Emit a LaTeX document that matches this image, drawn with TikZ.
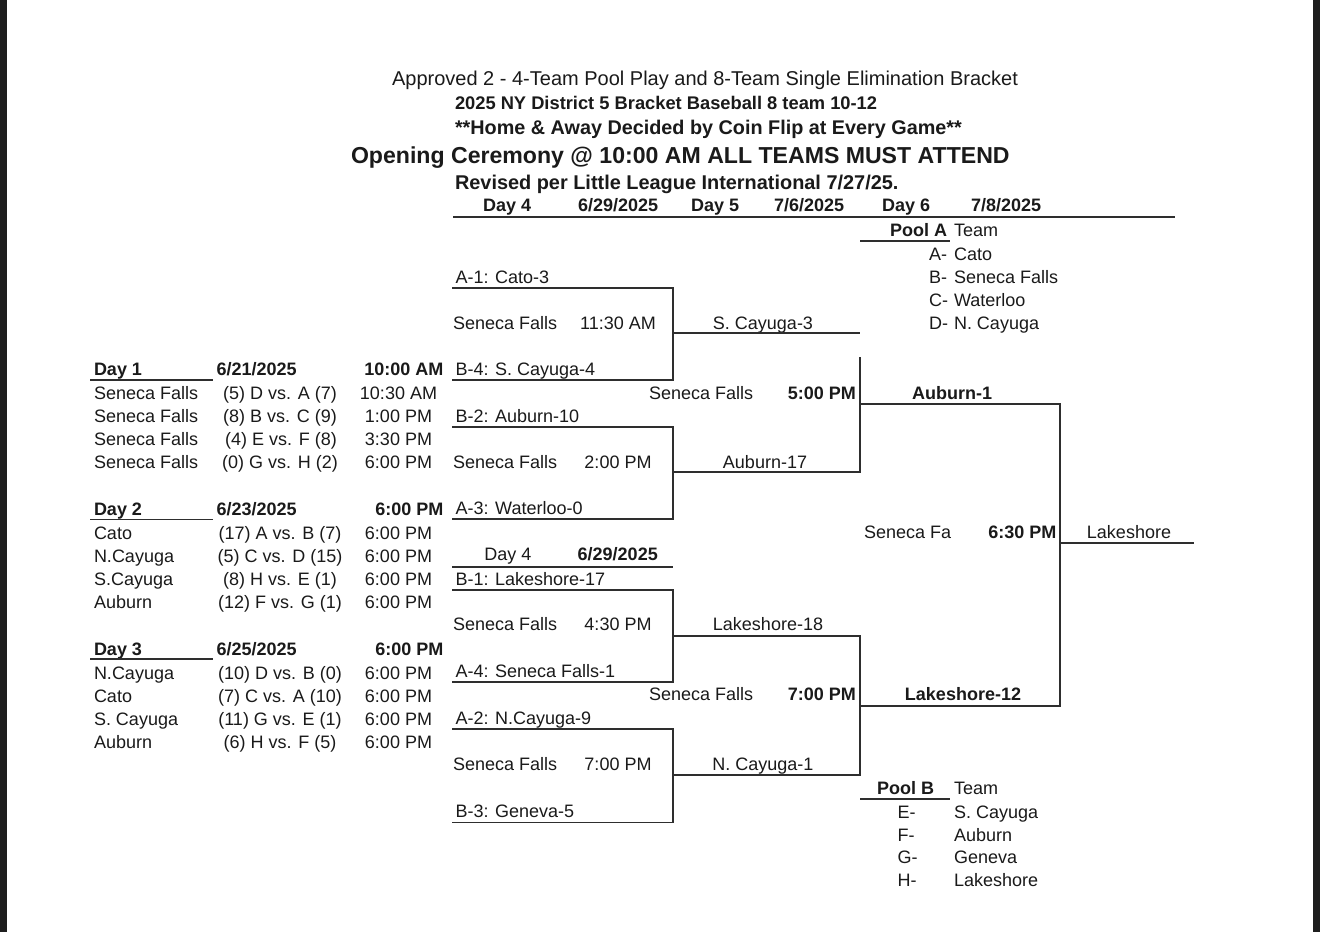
\documentclass[tikz,border=0pt]{standalone}
\usepackage{fontspec}
\setmainfont{Liberation Sans}
\definecolor{ink}{HTML}{1A1A1A}
\definecolor{linec}{HTML}{2E2E2E}
\definecolor{frame}{HTML}{1E1E1E}
\tikzset{
  every node/.style={inner sep=0pt, outer sep=0pt, text=ink},
  txt/.style={font=\fontsize{18}{20}\selectfont},
  btxt/.style={font=\fontsize{18}{20}\selectfont\bfseries},
  ln/.style={draw=linec, line width=1.8pt},
}
\begin{document}
\begin{tikzpicture}[x=1pt,y=-1pt]
\path[use as bounding box, fill=white] (0,0) rectangle (1320,932);
\fill[frame] (0,0) rectangle (7,932);
\fill[frame] (1313,0) rectangle (1320,932);

% titles
\node[txt, font=\fontsize{20}{22}\selectfont, anchor=base] (t1) at (705,85) {Approved 2 - 4-Team Pool Play and 8-Team Single Elimination Bracket};
\node[btxt, font=\fontsize{18.3}{20}\selectfont\bfseries, anchor=base west] (t2) at (455,109.5) {2025 NY District 5 Bracket Baseball 8 team 10-12};
\node[btxt, font=\fontsize{19.8}{22}\selectfont\bfseries, anchor=base west] (t3) at (455,134.5) {**Home \& Away Decided by Coin Flip at Every Game**};
\node[btxt, font=\fontsize{23.1}{25}\selectfont\bfseries, anchor=base west] (t4) at (351,163) {Opening Ceremony @ 10:00 AM ALL TEAMS MUST ATTEND};
\node[btxt, font=\fontsize{19.9}{22}\selectfont\bfseries, anchor=base west] (t5) at (455,189) {Revised per Little League International 7/27/25.};

% header row
\node[btxt, anchor=base west] (h1) at (483,211.5) {Day 4};
\node[btxt, anchor=base west] (h2) at (578,211.5) {6/29/2025};
\node[btxt, anchor=base west] (h3) at (691,211.5) {Day 5};
\node[btxt, anchor=base west] (h4) at (774,211.5) {7/6/2025};
\node[btxt, anchor=base west] (h5) at (882,211.5) {Day 6};
\node[btxt, anchor=base west] (h6) at (971,211.5) {7/8/2025};
\coordinate (hL) at (453,217); \coordinate (hR) at (1175,217);
\draw[ln] (hL) -- (hR);

% Pool A
\node[btxt, anchor=base east] (pa) at (947,236.5) {Pool A};
\node[txt, anchor=base west] (pat) at (954,236.5) {Team};
\coordinate (paL) at (860,241); \coordinate (paR) at (950,241);
\draw[ln] (paL) -- (paR);
\node[txt, anchor=base west] (paA) at (929,260) {A-};
\node[txt, anchor=base west] (paAt) at (954,260) {Cato};
\node[txt, anchor=base west] (paB) at (929,283) {B-};
\node[txt, anchor=base west] (paBt) at (954,283) {Seneca Falls};
\node[txt, anchor=base west] (paC) at (929,306.5) {C-};
\node[txt, anchor=base west] (paCt) at (954,306.5) {Waterloo};
\node[txt, anchor=base west] (paD) at (929,329) {D-};
\node[txt, anchor=base west] (paDt) at (954,329) {N. Cayuga};

% Pool B
\node[btxt, anchor=base east] (pb) at (934,794) {Pool B};
\node[txt, anchor=base west] (pbt) at (954,794) {Team};
\coordinate (pbL) at (860,799); \coordinate (pbR) at (950,799);
\draw[ln] (pbL) -- (pbR);
\node[txt, anchor=base west] (pbE) at (897.5,818.3) {E-};
\node[txt, anchor=base west] (pbEt) at (954,818.3) {S. Cayuga};
\node[txt, anchor=base west] (pbF) at (897.5,841) {F-};
\node[txt, anchor=base west] (pbFt) at (954,841) {Auburn};
\node[txt, anchor=base west] (pbG) at (897.5,863.5) {G-};
\node[txt, anchor=base west] (pbGt) at (954,863.5) {Geneva};
\node[txt, anchor=base west] (pbH) at (897.5,886) {H-};
\node[txt, anchor=base west] (pbHt) at (954,886) {Lakeshore};

% Day 1
\node[btxt, anchor=base west] (d1) at (94,375.7) {Day 1};
\node[btxt, anchor=base west] (d1d) at (216.5,375.7) {6/21/2025};
\node[btxt, anchor=base east] (d1t) at (443.5,375.7) {10:00 AM};
\coordinate (d1L) at (90,380); \coordinate (d1R) at (213,380);
\draw[ln] (d1L) -- (d1R);
\node[txt, anchor=base west] (d1a) at (94,399) {Seneca Falls};
\node[txt, anchor=base] (d1as) at (280,399) {(5) D vs. A (7)};
\node[txt, anchor=base] (d1at) at (398.5,399) {10:30 AM};
\node[txt, anchor=base west] (d1b) at (94,422) {Seneca Falls};
\node[txt, anchor=base] (d1bs) at (280,422) {(8) B vs. C (9)};
\node[txt, anchor=base] (d1bt) at (398.5,422) {1:00 PM};
\node[txt, anchor=base west] (d1c) at (94,445) {Seneca Falls};
\node[txt, anchor=base] (d1cs) at (281,445) {(4) E vs. F (8)};
\node[txt, anchor=base] (d1ct) at (398.5,445) {3:30 PM};
\node[txt, anchor=base west] (d1e) at (94,468) {Seneca Falls};
\node[txt, anchor=base] (d1es) at (280,468) {(0) G vs. H (2)};
\node[txt, anchor=base] (d1et) at (398.5,468) {6:00 PM};

% Day 2
\node[btxt, anchor=base west] (d2) at (94,515.5) {Day 2};
\node[btxt, anchor=base west] (d2d) at (216.5,515.5) {6/23/2025};
\node[btxt, anchor=base east] (d2t) at (443.5,515.5) {6:00 PM};
\coordinate (d2L) at (90,519.5); \coordinate (d2R) at (213,519.5);
\draw[ln] (d2L) -- (d2R);
\node[txt, anchor=base west] (d2a) at (94,539) {Cato};
\node[txt, anchor=base] (d2as) at (280,539) {(17) A vs. B (7)};
\node[txt, anchor=base] (d2at) at (398.5,539) {6:00 PM};
\node[txt, anchor=base west] (d2b) at (94,562) {N.Cayuga};
\node[txt, anchor=base] (d2bs) at (280,562) {(5) C vs. D (15)};
\node[txt, anchor=base] (d2bt) at (398.5,562) {6:00 PM};
\node[txt, anchor=base west] (d2c) at (94,585) {S.Cayuga};
\node[txt, anchor=base] (d2cs) at (280,585) {(8) H vs. E (1)};
\node[txt, anchor=base] (d2ct) at (398.5,585) {6:00 PM};
\node[txt, anchor=base west] (d2e) at (94,608.5) {Auburn};
\node[txt, anchor=base] (d2es) at (280,608.5) {(12) F vs. G (1)};
\node[txt, anchor=base] (d2et) at (398.5,608.5) {6:00 PM};

% Day 3
\node[btxt, anchor=base west] (d3) at (94,655) {Day 3};
\node[btxt, anchor=base west] (d3d) at (216.5,655) {6/25/2025};
\node[btxt, anchor=base east] (d3t) at (443.5,655) {6:00 PM};
\coordinate (d3L) at (90,659); \coordinate (d3R) at (213,659);
\draw[ln] (d3L) -- (d3R);
\node[txt, anchor=base west] (d3a) at (94,679) {N.Cayuga};
\node[txt, anchor=base] (d3as) at (280,679) {(10) D vs. B (0)};
\node[txt, anchor=base] (d3at) at (398.5,679) {6:00 PM};
\node[txt, anchor=base west] (d3b) at (94,702) {Cato};
\node[txt, anchor=base] (d3bs) at (280,702) {(7) C vs. A (10)};
\node[txt, anchor=base] (d3bt) at (398.5,702) {6:00 PM};
\node[txt, anchor=base west] (d3c) at (94,725) {S. Cayuga};
\node[txt, anchor=base] (d3cs) at (280,725) {(11) G vs. E (1)};
\node[txt, anchor=base] (d3ct) at (398.5,725) {6:00 PM};
\node[txt, anchor=base west] (d3e) at (94,748.3) {Auburn};
\node[txt, anchor=base] (d3es) at (280,748.3) {(6) H vs. F (5)};
\node[txt, anchor=base] (d3et) at (398.5,748.3) {6:00 PM};

% Bracket: quarterfinals (top)
\node[txt, anchor=base west] (q1a) at (455.5,283.5) {A-1: Cato-3};
\node[txt, anchor=base west] (q1v) at (453,329.3) {Seneca Falls};
\node[txt, anchor=base] (q1t) at (618,329.3) {11:30 AM};
\node[txt, anchor=base west] (q1b) at (455.5,375) {B-4: S. Cayuga-4};
\node[txt, anchor=base] (q1w) at (763,329.3) {S. Cayuga-3};

\node[txt, anchor=base west] (q2a) at (455.5,422.3) {B-2: Auburn-10};
\node[txt, anchor=base west] (q2v) at (453,468.3) {Seneca Falls};
\node[txt, anchor=base] (q2t) at (618,468.3) {2:00 PM};
\node[txt, anchor=base west] (q2b) at (455.5,514.3) {A-3: Waterloo-0};
\node[txt, anchor=base] (q2w) at (765,468.3) {Auburn-17};

\node[txt, anchor=base west] (s1v) at (649,399.3) {Seneca Falls};
\node[btxt, anchor=base east] (s1t) at (856,399.3) {5:00 PM};
\node[btxt, anchor=base] (s1w) at (952,399) {Auburn-1};

% bottom half
\node[txt, anchor=base west] (b4h) at (484.3,560.7) {Day 4};
\node[btxt, anchor=base west] (b4d) at (577.7,560.7) {6/29/2025};
\coordinate (b4L) at (452,567.3); \coordinate (b4R) at (673,567.3);
\draw[ln] (b4L) -- (b4R);

\node[txt, anchor=base west] (q3a) at (455.5,585) {B-1: Lakeshore-17};
\node[txt, anchor=base west] (q3v) at (453,630.7) {Seneca Falls};
\node[txt, anchor=base] (q3t) at (618,630.7) {4:30 PM};
\node[txt, anchor=base west] (q3b) at (455.5,677.7) {A-4: Seneca Falls-1};
\node[txt, anchor=base] (q3w) at (768,630.7) {Lakeshore-18};

\node[txt, anchor=base west] (q4a) at (455.5,724) {A-2: N.Cayuga-9};
\node[txt, anchor=base west] (q4v) at (453,770) {Seneca Falls};
\node[txt, anchor=base] (q4t) at (618,770) {7:00 PM};
\node[txt, anchor=base west] (q4b) at (455.5,817.7) {B-3: Geneva-5};
\node[txt, anchor=base] (q4w) at (763,770) {N. Cayuga-1};

\node[txt, anchor=base west] (s2v) at (649,700.7) {Seneca Falls};
\node[btxt, anchor=base east] (s2t) at (856,700.7) {7:00 PM};
\node[btxt, anchor=base] (s2w) at (963,700) {Lakeshore-12};

\node[txt, anchor=base west] (fv) at (864,538.3) {Seneca Fa};
\node[btxt, anchor=base east] (ft) at (1056.5,538.3) {6:30 PM};
\node[txt, anchor=base] (fw) at (1129,538.3) {Lakeshore};

% bracket coordinates
\coordinate (a1L) at (452,288);   \coordinate (a1R) at (673,288);
\coordinate (b4aL) at (452,380);  \coordinate (b4aR) at (673,380);
\coordinate (w1L) at (673,333);   \coordinate (w1R) at (860,333);
\coordinate (b2L) at (452,427);   \coordinate (b2R) at (673,427);
\coordinate (a3L) at (452,519);   \coordinate (a3R) at (673,519);
\coordinate (w2L) at (673,472);   \coordinate (w2R) at (860,472);
\coordinate (s1top) at (860,357);
\coordinate (s1L) at (860,404);   \coordinate (s1R) at (1060,404);
\coordinate (s2L) at (860,706);   \coordinate (s2R) at (1060,706);
\coordinate (fL) at (1060,543);   \coordinate (fR) at (1194,543);
\coordinate (b1L) at (452,590);   \coordinate (b1R) at (673,590);
\coordinate (a4L) at (452,682);   \coordinate (a4R) at (673,682);
\coordinate (w3L) at (673,636);   \coordinate (w3R) at (860,636);
\coordinate (a2L) at (452,729);   \coordinate (a2R) at (673,729);
\coordinate (b3L) at (452,822.5); \coordinate (b3R) at (673,822.5);
\coordinate (w4L) at (673,775);   \coordinate (w4R) at (860,775);

\draw[ln] (a1L) -- (a1R) -- (b4aR) -- (b4aL);
\draw[ln] (w1L) -- (w1R);
\draw[ln] (b2L) -- (b2R) -- (a3R) -- (a3L);
\draw[ln] (w2L) -- (w2R) -- (s1top);
\draw[ln] (s1L) -- (s1R) -- (s2R) -- (s2L);
\draw[ln] (fL) -- (fR);
\draw[ln] (b1L) -- (b1R) -- (a4R) -- (a4L);
\draw[ln] (w3L) -- (w3R) -- (w4R) -- (w4L);
\draw[ln] (a2L) -- (a2R) -- (b3R) -- (b3L);
\end{tikzpicture}
\end{document}
